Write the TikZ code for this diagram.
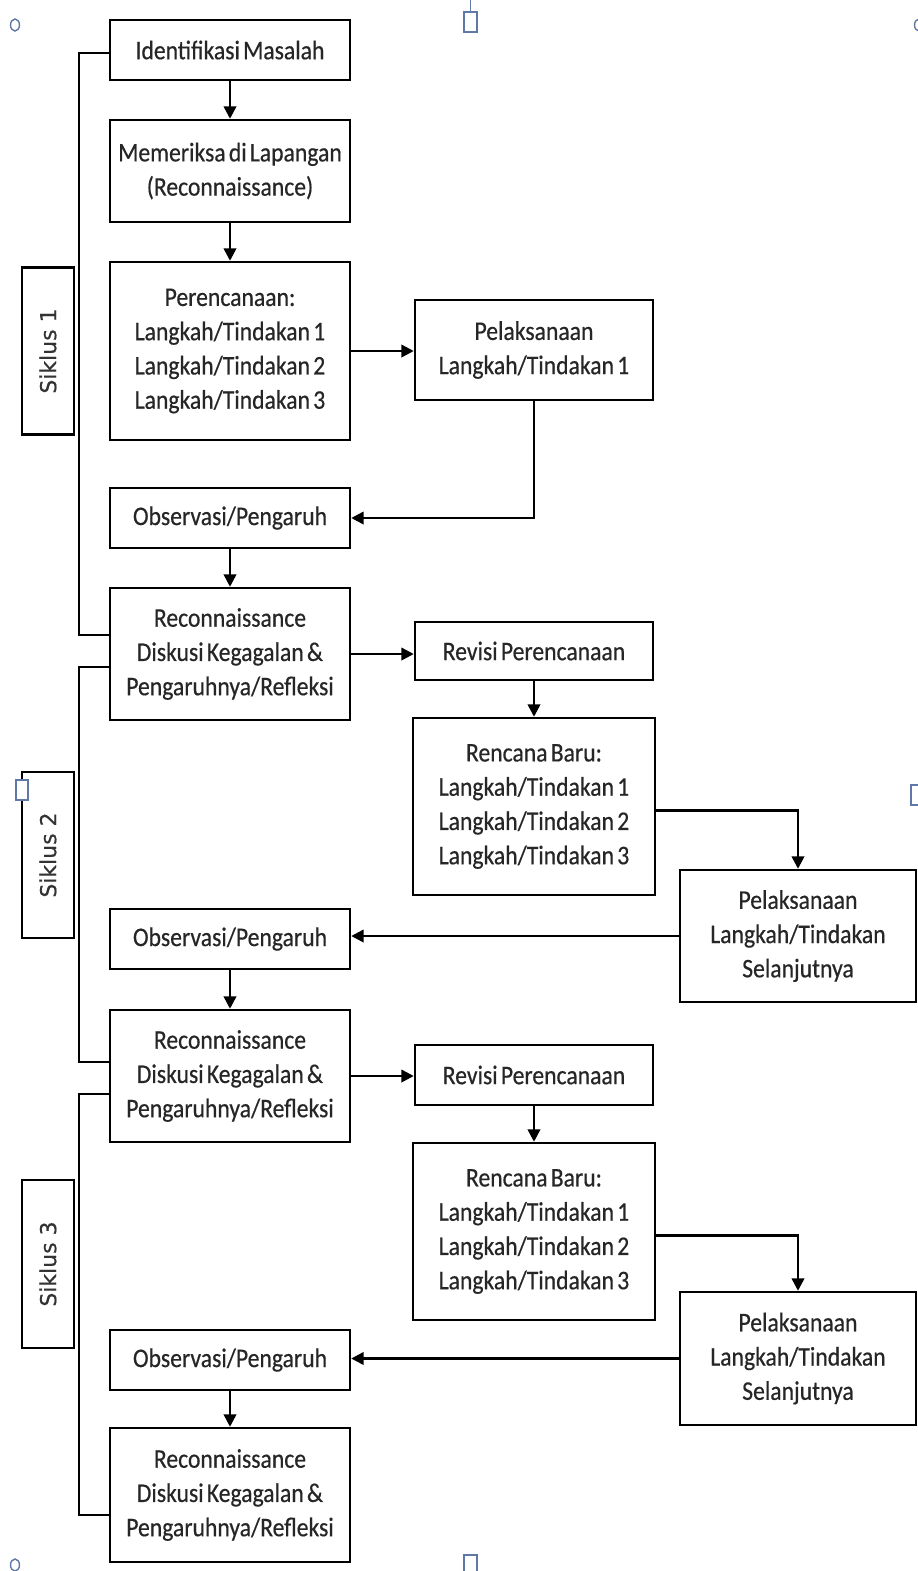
\documentclass[tikz,border=0pt]{standalone}
\usepackage{fontspec}
\setmainfont{Carlito}[FakeStretch=0.88,FakeBold=0.5,WordSpace=0.6]
\newfontfamily\siklusfont{DejaVu Sans}[FakeBold=0.4]
\usetikzlibrary{arrows.meta}
\definecolor{handlecol}{RGB}{95,120,165}
\tikzset{
  kotak/.style={draw, line width=1.4pt, align=center, inner sep=0pt,
    minimum width=4.8cm, font=\fontsize{15.3}{19.5}\selectfont, text=black!85},
  siklus/.style={draw, line width=1.4pt, rotate=90, inner sep=0pt,
    minimum height=1.04cm, font=\siklusfont\fontsize{12.5}{14}\selectfont, text=black!80},
  panah/.style={line width=1.4pt, -{Triangle[width=7pt,length=7pt]}},
  garis/.style={line width=1.4pt},
  pegangan/.style={draw=handlecol, line width=0.8pt, fill=white}
}

\begin{document}
\begin{tikzpicture}
			%%%%% START %%%%%
			\useasboundingbox (0,0) rectangle (18.36,-31.42);
			
			% kolom kiri
			\node[kotak, minimum height=1.2cm] (idm) at (4.6,-1.0) {Identifikasi Masalah};
			\node[kotak, minimum height=2.04cm] (mem) at (4.6,-3.42) {Memeriksa di Lapangan\\(Reconnaissance)};
			\node[kotak, minimum height=3.56cm] (ren) at (4.6,-7.02) {Perencanaan:\\Langkah/Tindakan 1\\Langkah/Tindakan 2\\Langkah/Tindakan 3};
			\node[kotak, minimum height=1.2cm] (obs1) at (4.6,-10.36) {Observasi/Pengaruh};
			\node[kotak, minimum height=2.64cm] (rec1) at (4.6,-13.08) {Reconnaissance\\Diskusi Kegagalan \&\\Pengaruhnya/Refleksi};
			\node[kotak, minimum height=1.2cm] (obs2) at (4.6,-18.78) {Observasi/Pengaruh};
			\node[kotak, minimum height=2.64cm] (rec2) at (4.6,-21.52) {Reconnaissance\\Diskusi Kegagalan \&\\Pengaruhnya/Refleksi};
			\node[kotak, minimum height=1.2cm] (obs3) at (4.6,-27.2) {Observasi/Pengaruh};
			\node[kotak, minimum height=2.68cm] (rec3) at (4.6,-29.9) {Reconnaissance\\Diskusi Kegagalan \&\\Pengaruhnya/Refleksi};
			
			% kolom tengah
			\node[kotak, minimum width=4.76cm, minimum height=2.0cm] (pel1) at (10.68,-7.0) {Pelaksanaan\\Langkah/Tindakan 1};
			\node[kotak, minimum width=4.76cm, minimum height=1.16cm] (rev1) at (10.68,-13.02) {Revisi Perencanaan};
			\node[kotak, minimum width=4.84cm, minimum height=3.54cm] (rb1) at (10.68,-16.13) {Rencana Baru:\\Langkah/Tindakan 1\\Langkah/Tindakan 2\\Langkah/Tindakan 3};
			\node[kotak, minimum width=4.76cm, minimum height=1.2cm] (rev2) at (10.68,-21.5) {Revisi Perencanaan};
			\node[kotak, minimum width=4.84cm, minimum height=3.54cm] (rb2) at (10.68,-24.63) {Rencana Baru:\\Langkah/Tindakan 1\\Langkah/Tindakan 2\\Langkah/Tindakan 3};
			
			% kolom kanan
			\node[kotak, minimum width=4.72cm, minimum height=2.64cm] (pls1) at (15.96,-18.72) {Pelaksanaan\\Langkah/Tindakan\\Selanjutnya};
			\node[kotak, minimum width=4.72cm, minimum height=2.66cm] (pls2) at (15.96,-27.17) {Pelaksanaan\\Langkah/Tindakan\\Selanjutnya};
			
			% siklus
			\node[siklus, minimum width=3.34cm] (s1) at (0.96,-7.02) {Siklus 1};
			\node[siklus, minimum width=3.32cm] (s2) at (0.96,-17.1) {Siklus 2};
			\node[siklus, minimum width=3.36cm] (s3) at (0.96,-25.28) {Siklus 3};
			
			% siklus 1
			\draw[panah] (idm) -- (mem);
			\draw[panah] (mem) -- (ren);
			\draw[panah] (ren.east) -- (ren.east -| pel1.west);
			\draw[panah] (pel1.south) |- (obs1.east);
			\draw[panah] (obs1) -- (rec1);
			
			% siklus 2
			\draw[panah] (rec1.east) -- (rec1.east -| rev1.west);
			\draw[panah] (rev1) -- (rb1);
			\draw[panah] ([yshift=-0.08cm]rb1.east) -| (pls1.north);
			\draw[panah] (pls1.west) -- (pls1.west -| obs2.east);
			\draw[panah] (obs2) -- (rec2);
			
			% siklus 3
			\draw[panah] (rec2.east) -- (rec2.east -| rev2.west);
			\draw[panah] (rev2) -- (rb2);
			\draw[panah] ([yshift=-0.08cm]rb2.east) -| (pls2.north);
			\draw[panah] (pls2.west) -- (pls2.west -| obs3.east);
			\draw[panah] (obs3) -- (rec3);
			
			% kurung siklus
			\draw[garis] ([yshift=-0.06cm]idm.west) -- ++(-0.6,0) |- ([yshift=0.38cm]rec1.west);
			\draw[garis] ([yshift=-0.26cm]rec1.west) -- ++(-0.6,0) |- ([yshift=0.28cm]rec2.west);
			\draw[garis] ([yshift=-0.36cm]rec2.west) -- ++(-0.6,0) |- ([yshift=-0.4cm]rec3.west);
			
			% pegangan
			\draw[pegangan] (0.3,-0.5) ellipse (0.09 and 0.12);
			\draw[pegangan] (0.3,-31.3) ellipse (0.09 and 0.12);
			\draw[pegangan] (18.38,-0.5) ellipse (0.09 and 0.12);
			\draw[handlecol, line width=0.8pt] (9.41,0) -- (9.41,-0.24);
			\draw[pegangan] (9.28,-0.24) rectangle (9.54,-0.64);
			\draw[pegangan] (9.28,-31.1) rectangle (9.54,-31.5);
			\draw[pegangan] (0.32,-15.6) rectangle (0.56,-16.0);
			\draw[pegangan] (18.22,-15.7) rectangle (18.48,-16.1);
			%%%%% END %%%%%
\end{tikzpicture}
\end{document}
